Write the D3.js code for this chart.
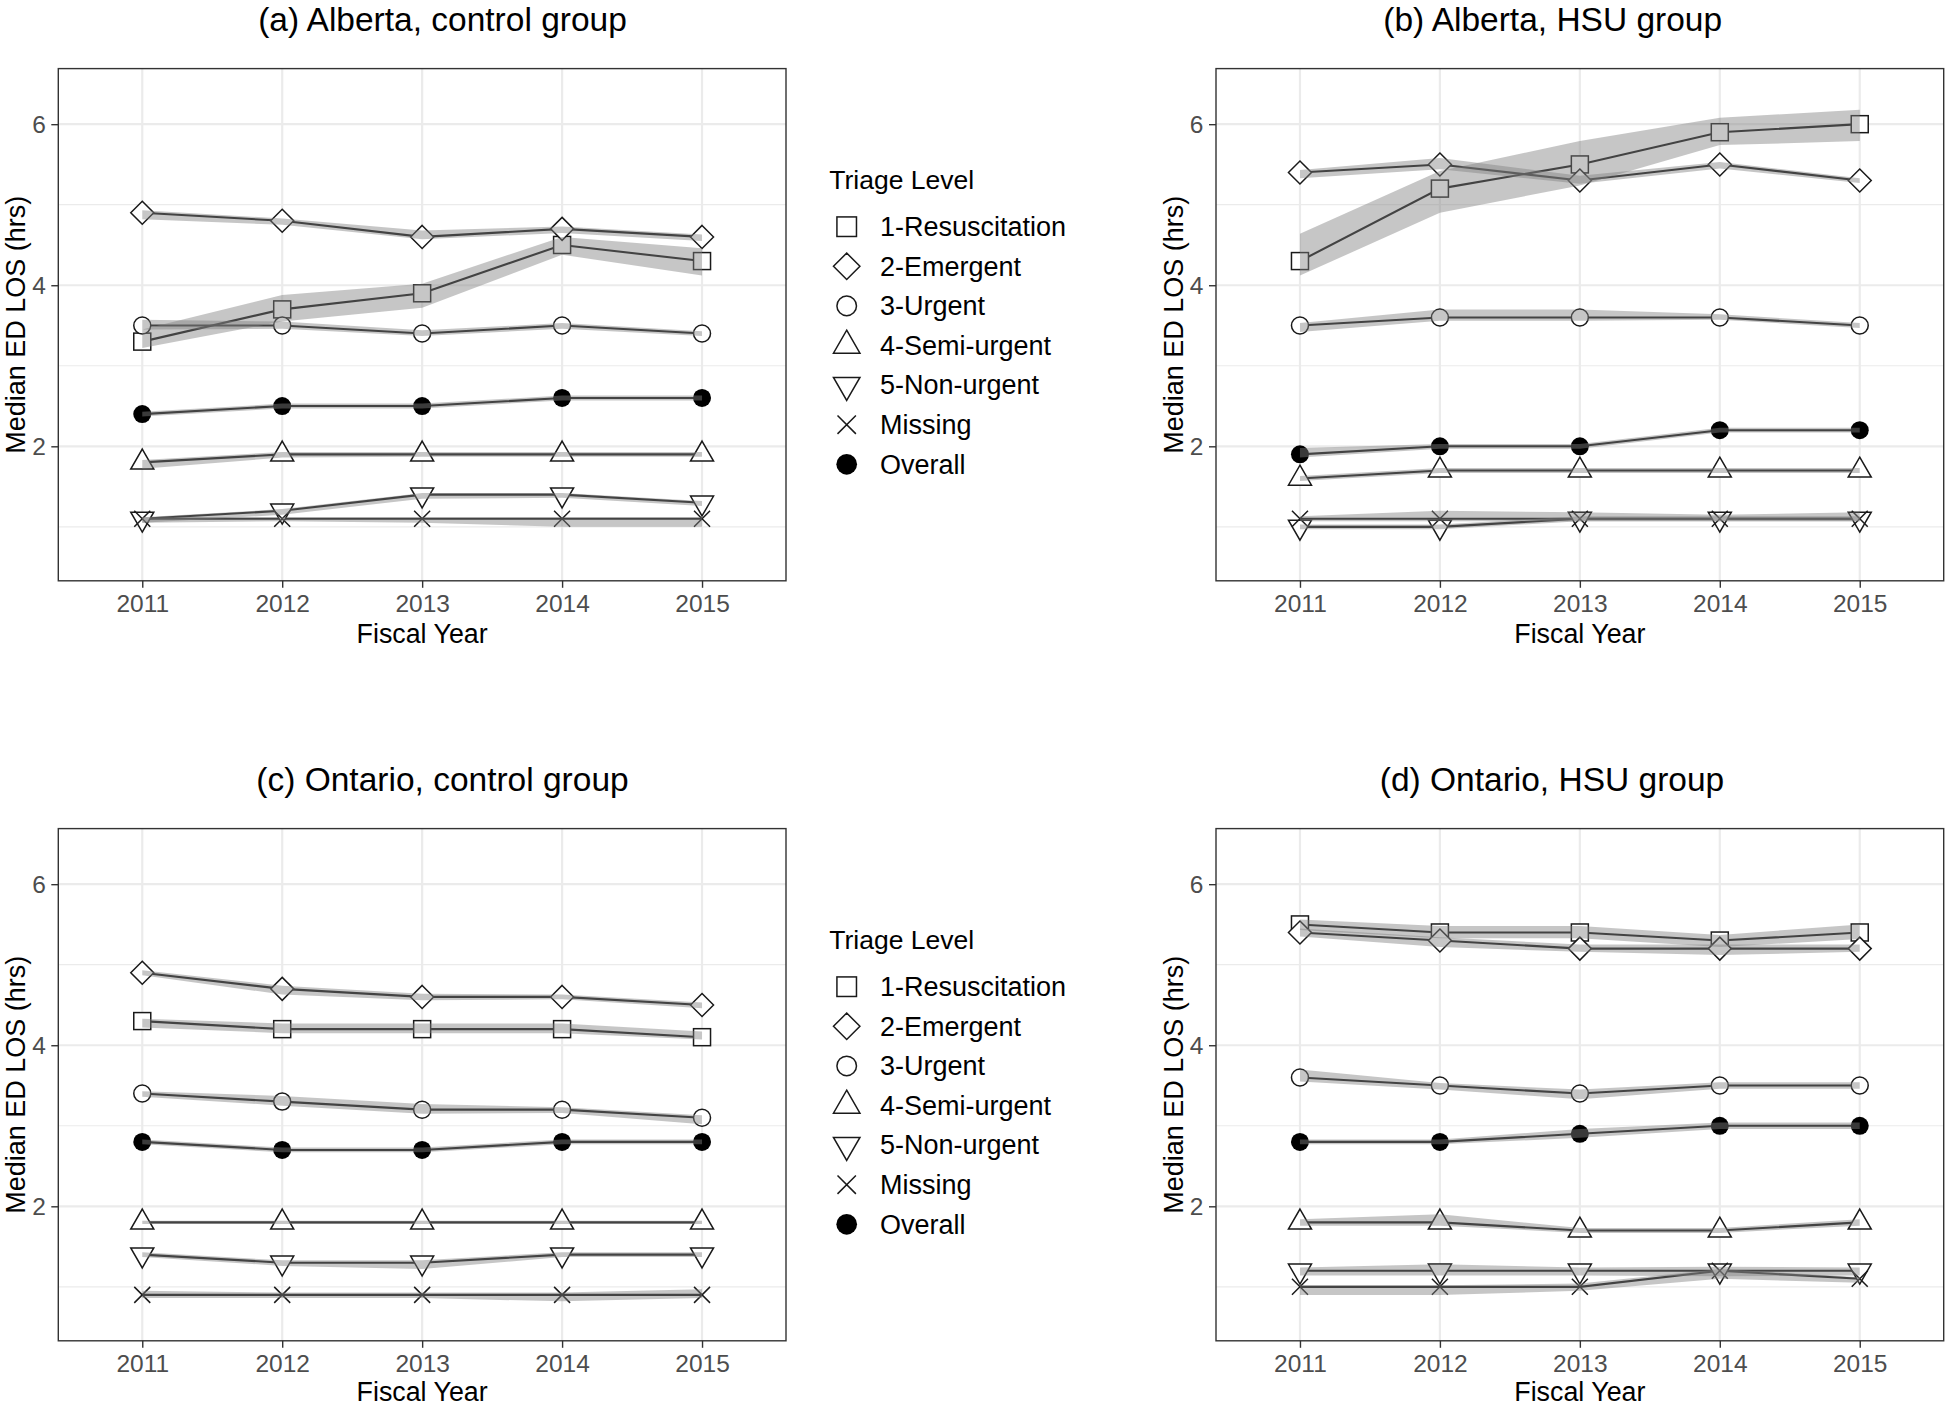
<!DOCTYPE html>
<html>
<head>
<meta charset="utf-8">
<script src="https://cdn.jsdelivr.net/npm/d3@7"></script>
<style>
  body { margin: 0; background: white; }
  text { font-family: "Liberation Sans", Arial, sans-serif; }
</style>
</head>
<body>
<div id="chart"></div>
<script>
// years on the x axis and the triage levels (legend order)
const years = [2011, 2012, 2013, 2014, 2015];
const levels = ['1-Resuscitation', '2-Emergent', '3-Urgent', '4-Semi-urgent', '5-Non-urgent', 'Missing', 'Overall'];
const shapes = ['square', 'diamond', 'circle', 'triUp', 'triDown', 'cross', 'dot'];
const titles = ['(a) Alberta, control group', '(b) Alberta, HSU group', '(c) Ontario, control group', '(d) Ontario, HSU group'];
const yTicks = [2, 4, 6];
const yMinor = [1, 3, 5];

// median ED LOS, one row per triage level (same order as levels)
const aMed = [
  [3.3, 3.7, 3.9, 4.5, 4.3],
  [4.9, 4.8, 4.6, 4.7, 4.6],
  [3.5, 3.5, 3.4, 3.5, 3.4],
  [1.8, 1.9, 1.9, 1.9, 1.9],
  [1.1, 1.2, 1.4, 1.4, 1.3],
  [1.1, 1.1, 1.1, 1.1, 1.1],
  [2.4, 2.5, 2.5, 2.6, 2.6]
];
const aLo = [
  [3.22, 3.55, 3.72, 4.38, 4.12],
  [4.82, 4.75, 4.57, 4.65, 4.55],
  [3.45, 3.46, 3.37, 3.46, 3.37],
  [1.72, 1.86, 1.87, 1.87, 1.87],
  [1.05, 1.15, 1.35, 1.36, 1.26],
  [1.05, 1.07, 1.05, 1.0, 1.0],
  [2.37, 2.47, 2.47, 2.57, 2.57]
];
const aHi = [
  [3.45, 3.88, 4.02, 4.6, 4.46],
  [4.93, 4.83, 4.68, 4.73, 4.63],
  [3.57, 3.55, 3.44, 3.53, 3.43],
  [1.83, 1.93, 1.93, 1.93, 1.93],
  [1.12, 1.22, 1.42, 1.42, 1.32],
  [1.12, 1.12, 1.12, 1.12, 1.12],
  [2.43, 2.53, 2.53, 2.63, 2.63]
];

const bMed = [
  [4.3, 5.2, 5.5, 5.9, 6.0],
  [5.4, 5.5, 5.3, 5.5, 5.3],
  [3.5, 3.6, 3.6, 3.6, 3.5],
  [1.6, 1.7, 1.7, 1.7, 1.7],
  [1.0, 1.0, 1.1, 1.1, 1.1],
  [1.1, 1.1, 1.1, 1.1, 1.1],
  [1.9, 2.0, 2.0, 2.2, 2.2]
];
const bLo = [
  [4.12, 4.9, 5.24, 5.74, 5.79],
  [5.33, 5.44, 5.26, 5.45, 5.27],
  [3.42, 3.56, 3.56, 3.57, 3.47],
  [1.57, 1.67, 1.67, 1.67, 1.67],
  [0.97, 0.97, 1.07, 1.07, 1.07],
  [1.07, 1.07, 1.07, 1.07, 1.07],
  [1.86, 1.97, 1.97, 2.17, 2.17]
];
const bHi = [
  [4.64, 5.42, 5.79, 6.08, 6.18],
  [5.43, 5.58, 5.36, 5.53, 5.33],
  [3.53, 3.7, 3.7, 3.64, 3.53],
  [1.63, 1.73, 1.73, 1.73, 1.73],
  [1.03, 1.03, 1.13, 1.13, 1.13],
  [1.13, 1.2, 1.18, 1.15, 1.18],
  [1.98, 2.03, 2.03, 2.23, 2.23]
];

const cMed = [
  [4.3, 4.2, 4.2, 4.2, 4.1],
  [4.9, 4.7, 4.6, 4.6, 4.5],
  [3.4, 3.3, 3.2, 3.2, 3.1],
  [1.8, 1.8, 1.8, 1.8, 1.8],
  [1.4, 1.3, 1.3, 1.4, 1.4],
  [0.9, 0.9, 0.9, 0.9, 0.9],
  [2.8, 2.7, 2.7, 2.8, 2.8]
];
const cLo = [
  [4.22, 4.15, 4.15, 4.15, 4.07],
  [4.87, 4.63, 4.56, 4.57, 4.46],
  [3.36, 3.25, 3.15, 3.16, 3.02],
  [1.78, 1.78, 1.78, 1.78, 1.78],
  [1.37, 1.26, 1.22, 1.37, 1.37],
  [0.86, 0.86, 0.86, 0.82, 0.86],
  [2.77, 2.67, 2.67, 2.77, 2.77]
];
const cHi = [
  [4.33, 4.27, 4.27, 4.27, 4.17],
  [4.93, 4.74, 4.64, 4.63, 4.53],
  [3.43, 3.37, 3.27, 3.23, 3.13],
  [1.82, 1.82, 1.82, 1.82, 1.82],
  [1.43, 1.33, 1.33, 1.43, 1.43],
  [0.95, 0.93, 0.93, 0.93, 0.97],
  [2.83, 2.73, 2.73, 2.83, 2.83]
];

const dMed = [
  [5.5, 5.4, 5.4, 5.3, 5.4],
  [5.4, 5.3, 5.2, 5.2, 5.2],
  [3.6, 3.5, 3.4, 3.5, 3.5],
  [1.8, 1.8, 1.7, 1.7, 1.8],
  [1.2, 1.2, 1.2, 1.2, 1.2],
  [1.0, 1.0, 1.0, 1.2, 1.1],
  [2.8, 2.8, 2.9, 3.0, 3.0]
];
const dLo = [
  [5.43, 5.33, 5.33, 5.22, 5.32],
  [5.35, 5.22, 5.16, 5.12, 5.16],
  [3.55, 3.45, 3.33, 3.46, 3.46],
  [1.76, 1.76, 1.67, 1.67, 1.76],
  [1.14, 1.14, 1.14, 1.13, 1.14],
  [0.9, 0.9, 0.95, 1.1, 1.05],
  [2.77, 2.77, 2.85, 2.96, 2.96]
];
const dHi = [
  [5.56, 5.48, 5.48, 5.37, 5.5],
  [5.45, 5.34, 5.25, 5.25, 5.25],
  [3.7, 3.53, 3.45, 3.54, 3.54],
  [1.84, 1.9, 1.73, 1.73, 1.84],
  [1.24, 1.28, 1.24, 1.25, 1.24],
  [1.02, 1.02, 1.04, 1.22, 1.12],
  [2.83, 2.83, 2.96, 3.04, 3.04]
];

const width = 1945, height = 1403;
const panelW = 727.7, panelH = 512.2;

// where each panel box sits, where its title is centred, and the x-title offset
const panels = [
  {left: 58.3, top: 68.6, med: aMed, lo: aLo, hi: aHi, titleX: 442.5, xTitleY: 62, legend: true},
  {left: 1216, top: 68.6, med: bMed, lo: bLo, hi: bHi, titleX: 1552.7, xTitleY: 62, legend: false},
  {left: 58.3, top: 828.6, med: cMed, lo: cLo, hi: cHi, titleX: 442.5, xTitleY: 60, legend: true},
  {left: 1216, top: 828.6, med: dMed, lo: dLo, hi: dHi, titleX: 1552, xTitleY: 60, legend: false}
];

let svg = d3.select('#chart')
  .append('svg')
  .attr('width', width)
  .attr('height', height)
  .style('background-color', 'white');

// draws one marker of the given shape at (0,0), k scales it up (legend keys)
function marker(g, shape, k) {
  let s = 8.5 * k, r = 11.5 * k, t = 13.3 * k, c = 8 * k;
  let stroke = '#1a1a1a', sw = 1.5;
  if (shape == 'square') {
    g.append('rect').attr('x', -s).attr('y', -s).attr('width', 2 * s).attr('height', 2 * s)
      .attr('fill', 'white').attr('stroke', stroke).attr('stroke-width', sw);
  } else if (shape == 'diamond') {
    g.append('path').attr('d', `M0,${-r}L${r},0L0,${r}L${-r},0Z`)
      .attr('fill', 'white').attr('stroke', stroke).attr('stroke-width', sw);
  } else if (shape == 'circle') {
    g.append('circle').attr('r', s)
      .attr('fill', 'white').attr('stroke', stroke).attr('stroke-width', sw);
  } else if (shape == 'triUp') {
    g.append('path').attr('d', `M0,${-t}L${t * 0.866},${t / 2}L${-t * 0.866},${t / 2}Z`)
      .attr('fill', 'white').attr('stroke', stroke).attr('stroke-width', sw);
  } else if (shape == 'triDown') {
    g.append('path').attr('d', `M0,${t}L${t * 0.866},${-t / 2}L${-t * 0.866},${-t / 2}Z`)
      .attr('fill', 'white').attr('stroke', stroke).attr('stroke-width', sw);
  } else if (shape == 'cross') {
    g.append('path').attr('d', `M${-c},${-c}L${c},${c}M${-c},${c}L${c},${-c}`)
      .attr('fill', 'none').attr('stroke', stroke).attr('stroke-width', sw);
  } else {
    g.append('circle').attr('r', 9 * k).attr('fill', 'black');
  }
}

function drawPanel(p, idx) {
  let g = svg.append('g').attr('transform', `translate(${p.left}, ${p.top})`);

  let xScale = d3.scaleLinear().domain([2010.4, 2015.6]).range([0, panelW]);
  let yScale = d3.scaleLinear().domain([0.33, 6.69]).range([panelH, 0]);

  // grid lines
  g.selectAll('.minor').data(yMinor).enter().append('line')
    .attr('x1', 0).attr('x2', panelW)
    .attr('y1', d => yScale(d)).attr('y2', d => yScale(d))
    .attr('stroke', '#ebebeb').attr('stroke-width', 1.2);
  g.selectAll('.majorY').data(yTicks).enter().append('line')
    .attr('x1', 0).attr('x2', panelW)
    .attr('y1', d => yScale(d)).attr('y2', d => yScale(d))
    .attr('stroke', '#ebebeb').attr('stroke-width', 2.2);
  g.selectAll('.majorX').data(years).enter().append('line')
    .attr('y1', 0).attr('y2', panelH)
    .attr('x1', d => xScale(d)).attr('x2', d => xScale(d))
    .attr('stroke', '#ebebeb').attr('stroke-width', 2.2);

  // axes
  let xAxis = d3.axisBottom(xScale).tickValues(years).tickFormat(d3.format('d'))
    .tickSize(7).tickPadding(7);
  let gx = g.append('g').attr('transform', `translate(0, ${panelH})`).call(xAxis);
  let yAxis = d3.axisLeft(yScale).tickValues(yTicks).tickFormat(d3.format('d'))
    .tickSize(7).tickPadding(5.5);
  let gy = g.append('g').call(yAxis);
  [gx, gy].forEach(ax => {
    ax.select('.domain').remove();
    ax.selectAll('.tick line').attr('stroke', '#333333').attr('stroke-width', 1.4);
    ax.selectAll('.tick text').attr('fill', '#4d4d4d')
      .style('font-size', '24.5px').style('font-family', '"Liberation Sans", Arial, sans-serif');
  });

  let line = d3.line().x((d, i) => xScale(years[i])).y(d => yScale(d));
  let area = d3.area()
    .x((d, i) => xScale(years[i]))
    .y0((d, i) => yScale(d[0]))
    .y1((d, i) => yScale(d[1]));

  // lines first, markers over them, then the translucent ribbons on top
  p.med.forEach(vals => {
    g.append('path').attr('d', line(vals))
      .attr('fill', 'none').attr('stroke', '#111111').attr('stroke-width', 2.1);
  });
  p.med.forEach((vals, s) => {
    vals.forEach((v, i) => {
      let m = g.append('g').attr('transform', `translate(${xScale(years[i])}, ${yScale(v)})`);
      marker(m, shapes[s], 1);
    });
  });
  p.med.forEach((vals, s) => {
    let band = vals.map((v, i) => [p.lo[s][i], p.hi[s][i]]);
    g.append('path').attr('d', area(band))
      .attr('fill', '#808080').attr('fill-opacity', 0.45);
  });

  // panel border
  g.append('rect').attr('width', panelW).attr('height', panelH)
    .attr('fill', 'none').attr('stroke', '#333333').attr('stroke-width', 1.4);

  // panel title
  svg.append('text')
    .attr('x', p.titleX).attr('y', p.top - 38)
    .attr('text-anchor', 'middle')
    .style('font-size', '33.5px')
    .text(titles[idx]);

  // x axis label
  g.append('text')
    .attr('x', panelW / 2).attr('y', panelH + p.xTitleY)
    .attr('text-anchor', 'middle')
    .style('font-size', '26.8px')
    .text('Fiscal Year');

  // y axis label
  g.append('text')
    .attr('transform', `translate(-33.5, ${panelH / 2}) rotate(-90)`)
    .attr('text-anchor', 'middle')
    .style('font-size', '27px')
    .text('Median ED LOS (hrs)');

  if (p.legend) {
    let lg = svg.append('g').attr('transform', `translate(829.3, ${p.top})`);
    lg.append('text').attr('x', 0).attr('y', 120.7)
      .style('font-size', '26.5px')
      .text('Triage Level');
    levels.forEach((lev, i) => {
      let cy = 158.1 + i * 39.6;
      let m = lg.append('g').attr('transform', `translate(17.4, ${cy})`);
      marker(m, shapes[i], 1.15);
      lg.append('text').attr('x', 50.7).attr('y', cy + 9.3)
        .style('font-size', '27px')
        .text(lev);
    });
  }
}

panels.forEach(drawPanel);
</script>
</body>
</html>
